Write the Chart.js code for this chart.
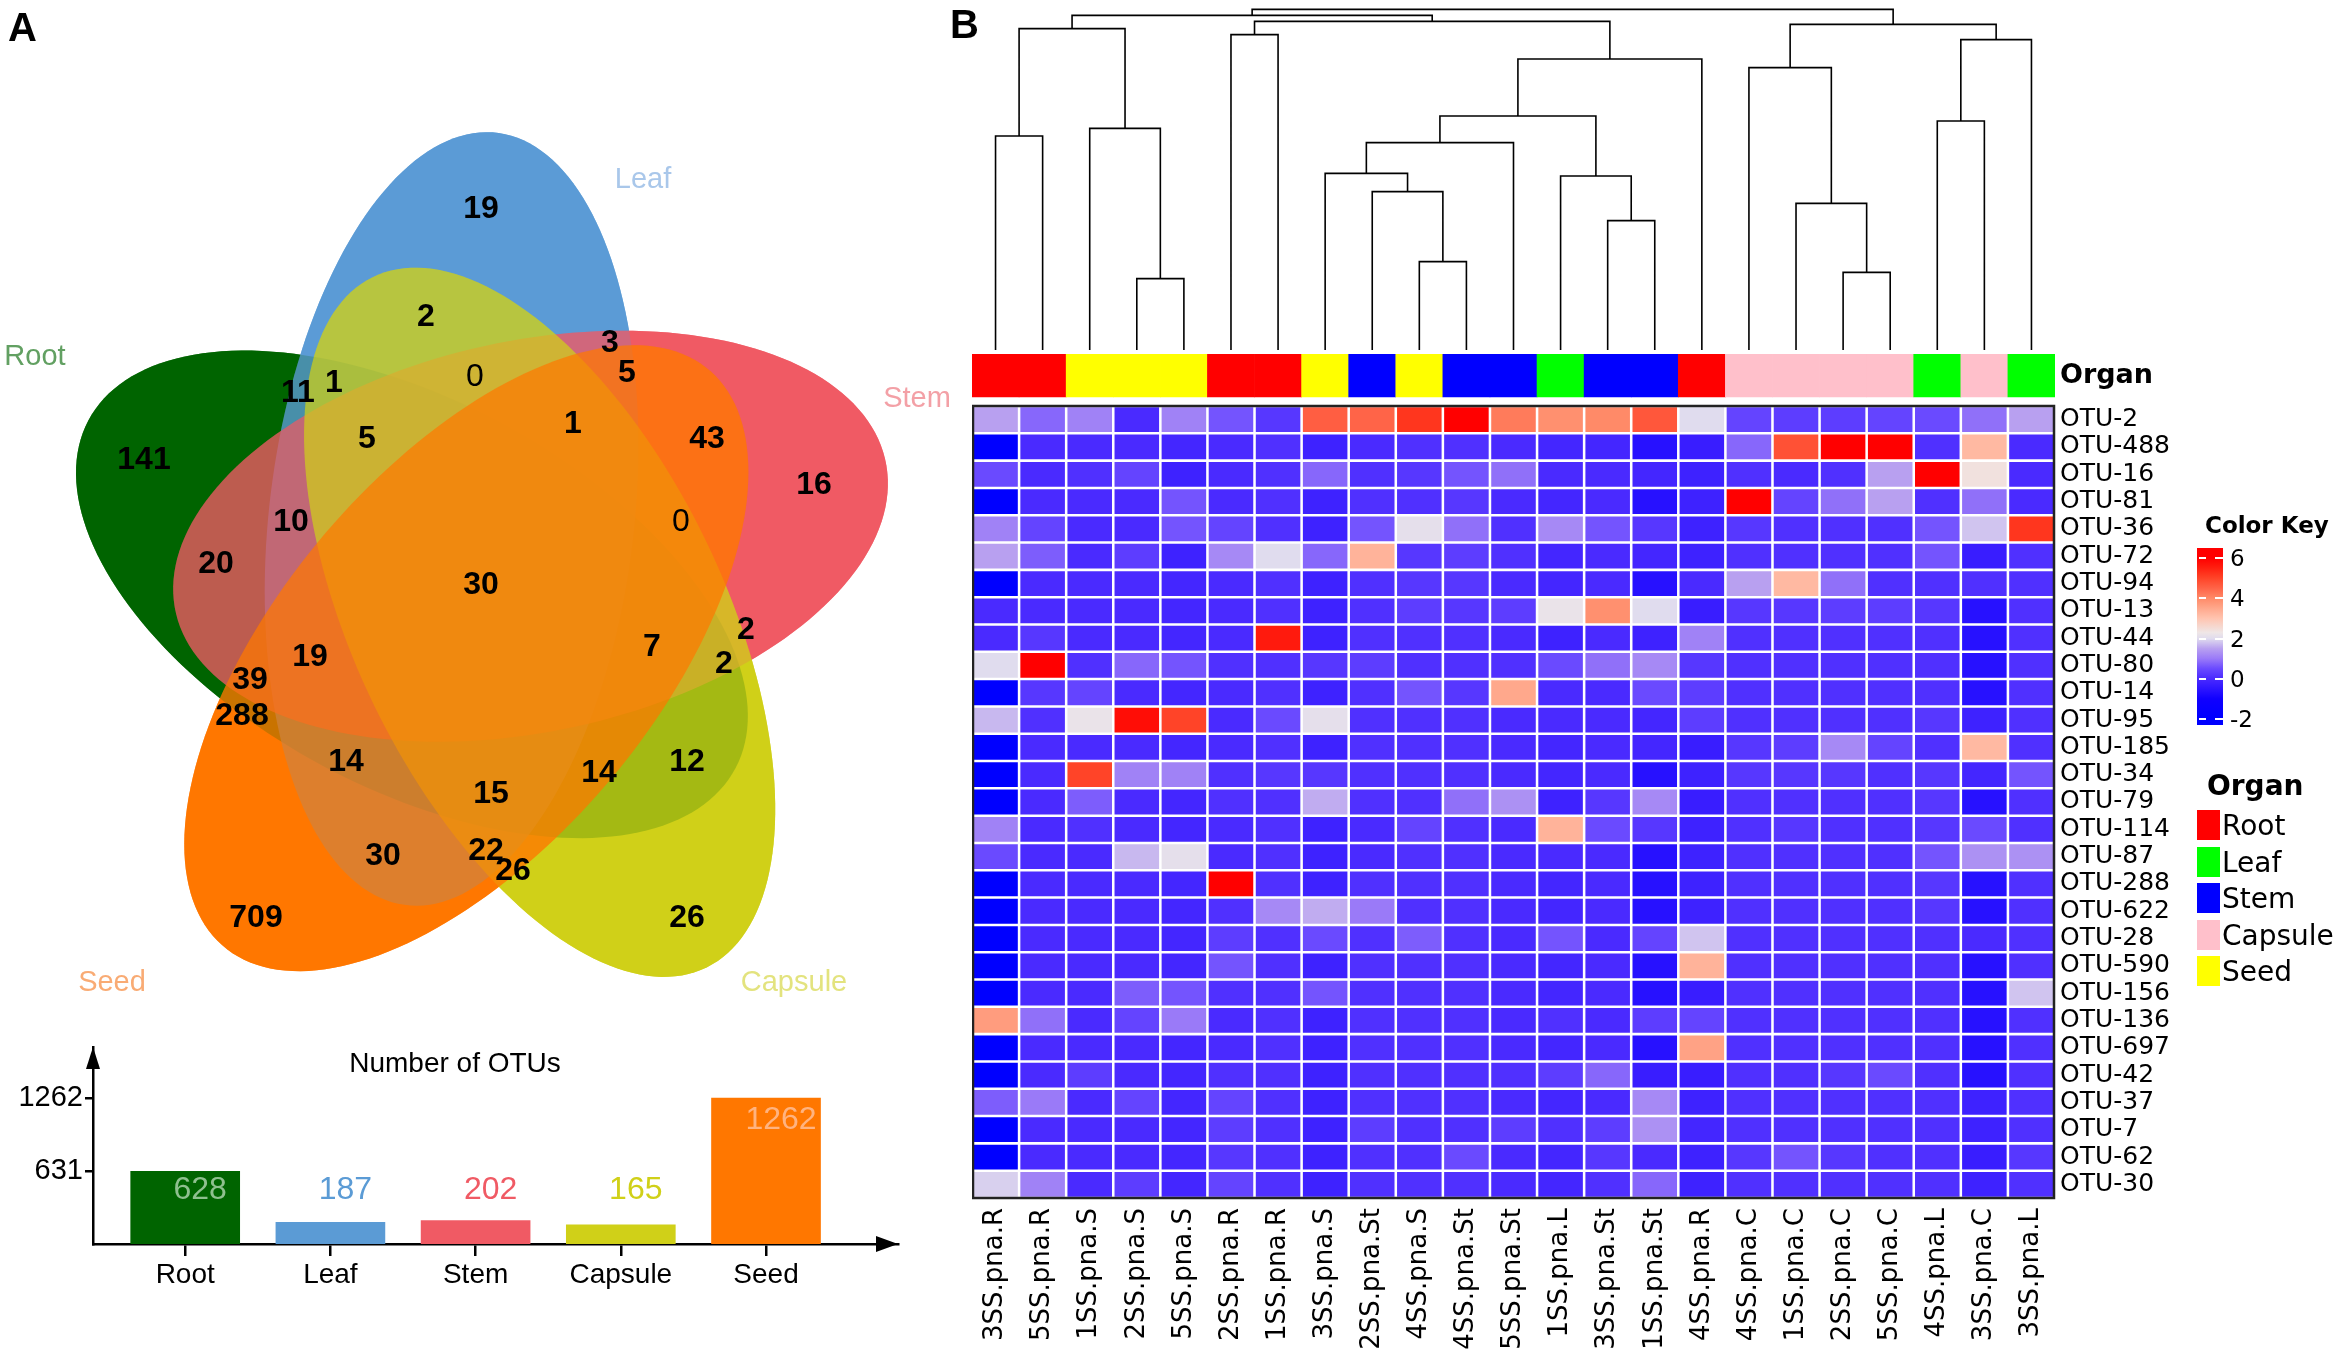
<!DOCTYPE html>
<html lang="en">
<head>
<meta charset="utf-8">
<title>OTUs: Venn, totals and heatmap</title>
<script src="https://cdn.jsdelivr.net/npm/chart.js@4.4.1/dist/chart.umd.min.js"></script>
<style>
  html, body { margin: 0; padding: 0; background: #fff; }
  #page { position: relative; width: 2334px; height: 1354px; overflow: hidden; background: #fff; }
  .box { position: absolute; }
  .txt { position: absolute; white-space: nowrap; line-height: 1; }
</style>
</head>
<body>
<div id="page">
  <div class="box" style="left:0;top:0;width:960px;height:1010px"><canvas id="venn"></canvas></div>
  <div class="box" style="left:0;top:1020px;width:940px;height:334px"><canvas id="totals"></canvas></div>
  <div class="box" style="left:972px;top:0;width:1083px;height:352px"><canvas id="dendro"></canvas></div>
  <div class="box" style="left:972px;top:354px;width:1362px;height:1000px"><canvas id="heat"></canvas></div>
  <div id="overlay"></div>
</div>
<script>
// ---------- Teil A: Organe, Venn-Zahlen, Gesamtzahlen ----------
const organs = ['Root', 'Leaf', 'Stem', 'Capsule', 'Seed'];
const organTotals = [628, 187, 202, 165, 1262];
const totalTicks = [631, 1262];
const vennCounts = [19, 2, 3, 5, 0, 11, 1, 141, 5, 1, 43, 16, 10, 0, 20, 30,
                    7, 2, 2, 19, 39, 288, 14, 12, 14, 15, 30, 22, 26, 709, 26];

// ---------- Teil B: Proben, OTUs, Werte, Dendrogramm ----------
const samples = ['3SS.pna.R', '5SS.pna.R', '1SS.pna.S', '2SS.pna.S', '5SS.pna.S', '2SS.pna.R',
                 '1SS.pna.R', '3SS.pna.S', '2SS.pna.St', '4SS.pna.S', '4SS.pna.St', '5SS.pna.St',
                 '1SS.pna.L', '3SS.pna.St', '1SS.pna.St', '4SS.pna.R', '4SS.pna.C', '1SS.pna.C',
                 '2SS.pna.C', '5SS.pna.C', '4SS.pna.L', '3SS.pna.C', '3SS.pna.L'];
const sampleOrgan = ['Root', 'Root', 'Seed', 'Seed', 'Seed', 'Root', 'Root', 'Seed', 'Stem', 'Seed',
                     'Stem', 'Stem', 'Leaf', 'Stem', 'Stem', 'Root', 'Capsule', 'Capsule', 'Capsule',
                     'Capsule', 'Leaf', 'Capsule', 'Leaf'];
const otus = ['OTU-2', 'OTU-488', 'OTU-16', 'OTU-81', 'OTU-36', 'OTU-72', 'OTU-94', 'OTU-13',
              'OTU-44', 'OTU-80', 'OTU-14', 'OTU-95', 'OTU-185', 'OTU-34', 'OTU-79', 'OTU-114',
              'OTU-87', 'OTU-288', 'OTU-622', 'OTU-28', 'OTU-590', 'OTU-156', 'OTU-136', 'OTU-697',
              'OTU-42', 'OTU-37', 'OTU-7', 'OTU-62', 'OTU-30'];
const zscores = [
  [1.5, 0.8, 1.1, 0, 1.1, 0.6, 0.2, 4.6, 4.5, 5.2, 6, 4.2, 3.9, 4.0, 4.7, 2.0, 0.4, 0.3, 0.3, 0.4, 0.5, 0.9, 1.5],
  [-2, 0, 0, 0, -0.1, 0, 0.1, -0.2, 0, 0.1, 0.1, 0, -0.1, -0.1, -0.6, -0.3, 0.8, 4.8, 6, 6, 0.1, 3.2, 0],
  [0.5, 0, 0.1, 0.4, -0.2, 0, 0.1, 0.8, 0.1, 0.2, 0.6, 0.9, 0, 0, -0.1, -0.2, 0.1, 0, 0.1, 1.5, 6, 2.4, 0],
  [-2, 0, 0, 0, 0.6, 0, 0.1, -0.2, 0.1, 0.1, 0.2, 0, -0.1, 0, -0.6, -0.2, 6, 0.4, 0.9, 1.5, 0.1, 0.9, 0],
  [1.1, 0.4, 0, 0, 0.6, 0.4, 0.1, -0.2, 0.6, 2.1, 0.9, 0.1, 1.2, 0.6, 0.2, -0.2, 0.2, 0.1, 0.1, 0.1, 0.6, 1.8, 5.2],
  [1.5, 0.7, 0, 0.3, -0.2, 1.2, 2.0, 0.8, 3.3, 0.2, 0.3, 0.1, -0.1, 0, -0.1, -0.2, 0.1, 0.1, 0.1, 0.1, 0.6, -0.3, 0.1],
  [-2, 0, 0, 0, -0.1, 0, 0.1, -0.2, 0.1, 0.2, 0.2, 0, -0.1, 0, -0.6, 0, 1.5, 3.2, 0.9, 0.1, 0.1, 0.1, 0.1],
  [0, 0, 0, 0, -0.1, 0, 0.1, -0.2, 0.1, 0.3, 0.2, 0.3, 2.2, 3.9, 2.0, -0.3, 0.2, 0.2, 0.3, 0.3, 0.2, -0.6, 0.1],
  [0, 0.2, 0, 0, -0.1, 0, 5.6, -0.2, 0.1, 0.1, 0.1, 0, -0.2, 0, -0.2, 1.1, 0.1, 0.1, 0.1, 0.1, 0.1, -0.6, 0.1],
  [2.0, 6, 0.1, 0.8, 0.6, 0.1, 0.1, 0.2, 0.3, 0.1, 0.1, 0.1, 0.5, 0.9, 1.2, 0.2, 0.1, 0.1, 0.1, 0.1, 0.1, -0.6, 0.1],
  [-2, 0.2, 0.4, 0, -0.1, 0, 0.1, -0.2, 0.1, 0.6, 0.2, 3.5, 0, 0, 0.5, 0.3, 0.1, 0.1, 0.1, 0.1, 0.1, -0.6, 0.1],
  [1.7, 0.1, 2.2, 5.8, 5.0, 0, 0.5, 2.1, 0.1, 0.1, 0.1, 0, 0, 0, -0.1, 0.3, 0.1, 0.1, 0.1, 0.1, 0.2, -0.2, 0.1],
  [-2, 0, 0, 0, -0.1, 0, 0.1, -0.2, 0.1, 0.1, 0.1, 0, -0.1, 0, -0.1, -0.3, 0.2, 0.3, 1.2, 0.4, 0.1, 3.2, 0.1],
  [-2, 0, 5.0, 1.1, 1.1, 0.1, 0.2, 0.2, 0.1, 0.1, 0.1, 0, -0.1, 0, -0.6, -0.2, 0.2, 0.2, 0.2, 0.1, 0.2, -0.1, 0.6],
  [-2, 0, 0.7, 0, -0.1, 0.1, 0.1, 1.6, 0.1, 0.1, 0.9, 1.3, -0.2, 0.2, 1.2, -0.3, 0.1, 0.1, 0.1, 0.1, 0.2, -0.6, 0.1],
  [1.1, 0, 0.1, 0, -0.1, 0, 0.1, -0.2, 0, 0.4, 0.1, 0, 3.3, 0.5, 0.2, -0.2, 0.1, 0.2, 0.1, 0.1, 0.2, 0.5, 0.1],
  [0.5, 0, 0, 1.7, 2.1, 0, 0.1, -0.2, 0, 0.1, 0.1, 0, 0, 0, -0.6, -0.2, 0.1, 0.1, 0.1, 0.1, 0.6, 1.3, 1.3],
  [-2, 0, 0, 0, -0.1, 6, 0.1, -0.2, 0.1, 0.1, 0.1, 0, -0.1, 0, -0.6, -0.2, 0.1, 0.1, 0.1, 0.1, 0.2, -0.6, 0.1],
  [-2, 0, 0, 0, -0.1, 0.1, 1.2, 1.6, 1.0, 0.1, 0.1, 0, -0.1, 0, -0.6, -0.2, 0.1, 0.1, 0.1, 0.1, 0.2, -0.6, 0.1],
  [-2, 0, 0, 0, -0.1, 0.3, 0.1, 0.5, 0.1, 0.7, 0.1, 0, 0.6, 0, 0.4, 1.8, 0.1, 0.1, 0.1, 0.1, 0.1, 0, 0.1],
  [-2, 0, 0, 0, -0.1, 0.6, 0.1, -0.2, 0.1, 0.1, 0.1, 0, -0.1, 0, -0.6, 3.3, 0.1, 0.1, 0.1, 0.1, 0.1, -0.6, 0.1],
  [-2, 0, 0, 0.7, 0.6, 0.1, 0.1, 0.6, 0.1, 0.1, 0.1, 0, -0.1, 0, -0.6, -0.3, 0.1, 0.1, 0.1, 0.1, 0.1, -0.6, 1.8],
  [3.7, 0.9, 0, 0.4, 1.0, 0, 0.1, -0.2, 0.1, 0.1, 0.1, 0, 0.1, 0, 0.3, 0.4, 0.1, 0.1, 0.1, 0.1, 0.1, -0.6, 0.1],
  [-2, 0, 0, 0, -0.1, 0, 0.1, -0.2, 0.1, 0.1, 0.1, 0, -0.1, 0, -0.6, 3.6, 0.1, 0.1, 0.1, 0.1, 0.1, -0.6, 0.1],
  [-2, 0, 0.3, 0, -0.1, 0.1, 0.1, -0.2, 0.1, 0.1, 0.1, 0.1, 0.3, 0.8, -0.3, -0.3, 0.1, 0.1, 0.2, 0.5, 0.1, -0.6, 0.1],
  [0.7, 1.0, 0, 0.4, -0.1, 0.4, 0.1, -0.2, 0.1, 0.1, 0.1, 0, -0.1, 0, 1.2, -0.2, 0.1, 0.1, 0.1, 0.1, 0.1, -0.2, 0.1],
  [-2, 0, 0, 0, -0.1, 0.3, 0.1, -0.2, 0.3, 0.1, 0.1, 0.3, 0.1, 0.3, 1.3, -0.1, 0.1, 0.1, 0.1, 0.1, 0.1, -0.2, 0.1],
  [-2, 0, 0, 0, -0.1, 0.2, 0.1, -0.2, 0.1, 0.1, 0.5, 0, -0.1, 0.2, 0, -0.2, 0.2, 0.6, 0.2, 0.1, 0.1, -0.3, 0.2],
  [1.9, 1.1, 0, 0.3, -0.1, 0.4, 0.1, -0.2, 0.1, 0.1, 0.1, 0, -0.1, 0.1, 0.8, -0.2, 0.1, 0.1, 0.1, 0.1, 0.1, -0.2, 0.1]
];
// Zusammenschlüsse wie bei hclust: negativ = Probe (Spalte), positiv = früherer Schritt
const dendroMerges = [[-4, -5], [-19, -20], [-10, -11], [-14, -15], [-18, 2], [-9, 3], [-13, 4], [-8, 6],
                      [8, -12], [-1, -2], [-3, 1], [-21, -22], [9, 7], [-17, 5], [13, -16], [12, -23],
                      [-6, -7], [10, 11], [14, 16], [17, 15], [18, 20], [21, 19]];
const dendroHeights = [21.4, 23.3, 26.5, 38.8, 44.0, 47.5, 52.2, 53.0, 62.2, 64.2, 66.5, 68.7, 70.2,
                       84.7, 87.3, 93.1, 94.6, 96.4, 97.7, 98.6, 100.4, 102.2];
const keyTicks = [6, 4, 2, 0, -2];

// ---------- Stil und Layout ----------
const LIB = "'Liberation Sans', Arial, sans-serif";
const DV = "'DejaVu Sans', sans-serif";
const vennColours = ['#006400', '#5b9bd5', '#f05a64', '#d0d018', '#ff7700'];
const vennNameColours = ['#62a062', '#a9c7ea', '#f3a0a6', '#e3e37e', '#f9ab74'];
const totalLabelColours = ['#8fc08f', '#5b9bd5', '#f05a64', '#d0d018', '#ffb380'];
const heatOrganColours = { Root: '#ff0000', Leaf: '#00ff00', Stem: '#0000ff', Capsule: '#ffc0cb', Seed: '#ffff00' };
const keyStops = [[-2, '#0000ff'], [-1, '#1000ff'], [0, '#4a2aff'], [0.5, '#6a4aff'], [1, '#9a7af8'],
                  [1.5, '#b8a0f0'], [2, '#e0dcee'], [2.3, '#efe6e6'], [3, '#ffc4b0'], [3.5, '#ffa88c'],
                  [4, '#ff8a68'], [4.5, '#ff6448'], [5, '#ff4428'], [5.5, '#ff2010'], [6, '#ff0000']];

// Ellipsen-Geometrie (Einheiten vor der Streckung), Reihenfolge wie organs
const vennOrigin = [480, 586], vennStretch = [0.965, 1.038];
const vennOffset = 71, vennTilt = 32, vennAxes = [375, 189];
const vennCentreAngle = [173.5, -114.5, -42.5, 29.5, 101.5];
const vennCountPos = [[481, 209], [426, 317], [610, 343], [627, 373], [475, 377], [298, 393], [334, 383],
                      [144, 460], [367, 439], [573, 424], [707, 439], [814, 485], [291, 522], [681, 522],
                      [216, 564], [481, 585], [652, 647], [746, 630], [724, 664], [310, 657], [250, 680],
                      [242, 716], [346, 762], [687, 762], [599, 773], [491, 794], [383, 856], [486, 851],
                      [513, 871], [256, 918], [687, 918]];
const vennNamePos = [[35, 357], [643, 180], [917, 399], [794, 983], [112, 983]];

Chart.defaults.animation = false;
Chart.defaults.devicePixelRatio = 1;
Chart.defaults.plugins.legend.display = false;
Chart.defaults.plugins.tooltip.enabled = false;

function hexRgb(h) {
    return [1, 3, 5].map(i => parseInt(h.substr(i, 2), 16));
}

// Farbskala des Color Key
function heatColour(v) {
    if (v <= keyStops[0][0]) return keyStops[0][1];
    for (let i = 1; i < keyStops.length; i++) {
        if (v <= keyStops[i][0]) {
            const t = (v - keyStops[i - 1][0]) / (keyStops[i][0] - keyStops[i - 1][0]);
            const a = hexRgb(keyStops[i - 1][1]), b = hexRgb(keyStops[i][1]);
            const c = a.map((x, k) => Math.round(x + (b[k] - x) * t));
            return `rgb(${c[0]},${c[1]},${c[2]})`;
        }
    }
    return keyStops[keyStops.length - 1][1];
}

// Text als HTML
const overlay = document.getElementById('overlay');
function addText(text, x, y, css, anchor) {
    const d = document.createElement('div');
    d.className = 'txt';
    d.textContent = text;
    d.style.cssText += `left:${x}px;top:${y}px;` + css;
    d.style.transform = anchor === 'left' ? 'translate(0,-50%)' : 'translate(-50%,-50%)';
    overlay.appendChild(d);
    return d;
}

// ---------- Venn ----------
const vennPlugin = {
    id: 'vennShapes',
    beforeDatasetsDraw(chart) {
        const { ctx, scales: { x, y } } = chart;
        const toPx = (u, v) => [x.getPixelForValue(vennOrigin[0] + vennStretch[0] * u),
                                y.getPixelForValue(vennOrigin[1] + vennStretch[1] * v)];
        const trace = (i) => {
            const phi = vennCentreAngle[i] * Math.PI / 180;
            const th = (vennCentreAngle[i] + vennTilt) * Math.PI / 180;
            const cu = vennOffset * Math.cos(phi), cv = vennOffset * Math.sin(phi);
            ctx.beginPath();
            for (let k = 0; k <= 180; k++) {
                const t = k / 180 * 2 * Math.PI;
                const a = vennAxes[0] * Math.cos(t), b = vennAxes[1] * Math.sin(t);
                const p = toPx(cu + a * Math.cos(th) - b * Math.sin(th), cv + a * Math.sin(th) + b * Math.cos(th));
                if (k === 0) ctx.moveTo(p[0], p[1]); else ctx.lineTo(p[0], p[1]);
            }
            ctx.closePath();
        };
        ctx.save();
        // erst deckend, dann halbtransparent darüber
        [1, 0.7].forEach(alpha => {
            ctx.globalAlpha = alpha;
            organs.forEach((o, i) => {
                trace(i);
                ctx.fillStyle = vennColours[i];
                ctx.fill();
            });
        });
        ctx.restore();
    },
    afterDatasetsDraw(chart) {
        const { ctx, scales: { x, y } } = chart;
        ctx.save();
        ctx.textAlign = 'center';
        ctx.textBaseline = 'middle';
        vennCounts.forEach((n, i) => {
            ctx.font = (n === 0 ? '' : 'bold ') + '32px ' + LIB;
            ctx.fillStyle = '#000';
            ctx.fillText(String(n), x.getPixelForValue(vennCountPos[i][0]), y.getPixelForValue(vennCountPos[i][1]));
        });
        ctx.font = '29px ' + LIB;
        organs.forEach((o, i) => {
            ctx.fillStyle = vennNameColours[i];
            ctx.fillText(o, x.getPixelForValue(vennNamePos[i][0]), y.getPixelForValue(vennNamePos[i][1]));
        });
        ctx.restore();
    }
};

new Chart(document.getElementById('venn'), {
    type: 'scatter',
    data: { datasets: [] },
    options: {
        responsive: true,
        maintainAspectRatio: false,
        layout: { padding: 0 },
        scales: {
            x: { display: false, min: 0, max: 960 },
            y: { display: false, min: 0, max: 1010, reverse: true }
        }
    },
    plugins: [vennPlugin]
});

// ---------- Balken: Anzahl OTUs ----------
const totalsPlugin = {
    id: 'totalsExtras',
    afterDatasetsDraw(chart) {
        const { ctx, chartArea } = chart;
        const bars = chart.getDatasetMeta(0).data;
        ctx.save();
        ctx.font = '32px ' + LIB;
        ctx.textAlign = 'center';
        ctx.textBaseline = 'middle';
        bars.forEach((bar, i) => {
            ctx.fillStyle = totalLabelColours[i];
            ctx.fillText(String(organTotals[i]), bar.x + 15, Math.min(bar.y + 22, chartArea.bottom - 54));
        });
        ctx.restore();
    },
    afterDraw(chart) {
        const { ctx, chartArea: { left, right, top, bottom } } = chart;
        ctx.save();
        ctx.fillStyle = '#000';
        ctx.beginPath();
        ctx.moveTo(left, top);
        ctx.lineTo(left - 7, top + 22);
        ctx.lineTo(left + 7, top + 22);
        ctx.closePath();
        ctx.fill();
        ctx.beginPath();
        ctx.moveTo(right, bottom);
        ctx.lineTo(right - 22, bottom - 8);
        ctx.lineTo(right - 22, bottom + 8);
        ctx.closePath();
        ctx.fill();
        ctx.restore();
    }
};

new Chart(document.getElementById('totals'), {
    type: 'bar',
    data: {
        datasets: [{
            data: organTotals.map((v, i) => ({ x: i, y: v })),
            backgroundColor: vennColours,
            barThickness: 109
        }]
    },
    options: {
        responsive: true,
        maintainAspectRatio: false,
        layout: { padding: { top: 27, right: 42, left: 0, bottom: 0 } },
        scales: {
            x: {
                type: 'linear',
                min: -0.635,
                max: 4.909,
                offset: false,
                afterBuildTicks: a => { a.ticks = organs.map((o, i) => ({ value: i })); },
                afterFit: s => { s.height = 110; },
                ticks: {
                    callback: v => organs[v],
                    font: { family: LIB, size: 28 },
                    color: '#000',
                    padding: 2,
                    autoSkip: false,
                    maxRotation: 0
                },
                grid: { drawOnChartArea: false, drawTicks: true, tickLength: 12, color: '#000', lineWidth: 2.5, offset: false },
                border: { display: true, color: '#000', width: 2.5 }
            },
            y: {
                min: 0,
                max: 1703,
                afterBuildTicks: a => { a.ticks = totalTicks.map(v => ({ value: v })); },
                afterFit: s => { s.width = 93; },
                ticks: { font: { family: LIB, size: 29 }, color: '#000', padding: 2, callback: v => String(v) },
                grid: { drawOnChartArea: false, drawTicks: true, tickLength: 8, color: '#000', lineWidth: 2.5 },
                border: { display: true, color: '#000', width: 2.5 }
            }
        }
    },
    plugins: [totalsPlugin]
});

addText('Number of OTUs', 455, 1063, `font:28px ${LIB};color:#000;`);

// ---------- Dendrogramm ----------
function dendroPoints() {
    const pos = [], hgt = [], pts = [];
    const where = id => id < 0 ? [-id - 1, 0] : [pos[id - 1], hgt[id - 1]];
    dendroMerges.forEach(([a, b], k) => {
        const [xa, ha] = where(a), [xb, hb] = where(b);
        const h = dendroHeights[k];
        pts.push({ x: xa, y: ha }, { x: xa, y: h }, { x: xb, y: h }, { x: xb, y: hb }, { x: xb, y: null });
        pos.push((xa + xb) / 2);
        hgt.push(h);
    });
    return pts;
}

new Chart(document.getElementById('dendro'), {
    type: 'scatter',
    data: {
        datasets: [{
            data: dendroPoints(),
            showLine: true,
            spanGaps: false,
            pointRadius: 0,
            borderColor: '#000',
            borderWidth: 1.6,
            clip: false
        }]
    },
    options: {
        responsive: true,
        maintainAspectRatio: false,
        layout: { padding: { bottom: 2 } },
        scales: {
            x: { display: false, min: -0.5, max: samples.length - 0.5 },
            y: { display: false, min: 0, max: 105 }
        }
    }
});

// ---------- Heatmap ----------
const organTop = -1.904, organBottom = -0.33;
const heatDatasets = zscores.map((row, r) => ({
    data: row.map(() => [r, r + 1]),
    backgroundColor: row.map(heatColour),
    borderColor: '#ffffff',
    borderWidth: 1.6,
    borderSkipped: false,
    grouped: false,
    barPercentage: 1,
    categoryPercentage: 1
}));
heatDatasets.push({
    data: samples.map(() => [organTop, organBottom]),
    backgroundColor: sampleOrgan.map(o => heatOrganColours[o]),
    borderWidth: 0,
    grouped: false,
    barPercentage: 1,
    categoryPercentage: 1
});

const framePlugin = {
    id: 'heatFrame',
    afterDatasetsDraw(chart) {
        const { ctx, chartArea, scales: { y } } = chart;
        const t = y.getPixelForValue(0), b = y.getPixelForValue(otus.length);
        ctx.save();
        ctx.strokeStyle = '#222';
        ctx.lineWidth = 2.5;
        ctx.strokeRect(chartArea.left + 1, t, chartArea.right - chartArea.left - 2, b - t);
        ctx.restore();
    }
};

new Chart(document.getElementById('heat'), {
    type: 'bar',
    data: { labels: samples, datasets: heatDatasets },
    options: {
        responsive: true,
        maintainAspectRatio: false,
        layout: { padding: 0 },
        scales: {
            x: {
                afterFit: s => { s.height = 156; s.paddingLeft = 0; s.paddingRight = 0; },
                ticks: {
                    font: { family: DV, size: 26 },
                    color: '#000',
                    minRotation: 90,
                    maxRotation: 90,
                    padding: 10,
                    autoSkip: false
                },
                grid: { display: false, drawTicks: false },
                border: { display: false }
            },
            y: {
                position: 'right',
                reverse: true,
                min: organTop,
                max: otus.length,
                afterBuildTicks: a => {
                    a.ticks = [{ value: (organTop + organBottom) / 2 }].concat(otus.map((o, i) => ({ value: i + 0.5 })));
                },
                afterFit: s => { s.width = 279; s.paddingTop = 0; s.paddingBottom = 0; },
                ticks: {
                    callback: (v, i) => i === 0 ? 'Organ' : otus[i - 1],
                    font: c => c.index === 0 ? { family: DV, size: 27, weight: 'bold' } : { family: DV, size: 25 },
                    color: '#000',
                    padding: 5,
                    autoSkip: false
                },
                grid: { display: false, drawTicks: false },
                border: { display: false }
            }
        }
    },
    plugins: [framePlugin]
});

// ---------- Color Key und Organ-Legende ----------
const keyLo = -2.3, keyHi = 6.5, keyTop = 548, keyHeight = 177, keyLeft = 2197, keyWidth = 26;
addText('Color Key', 2205, 525, `font:bold 23px ${DV};color:#000;`, 'left');
const bar = document.createElement('div');
bar.style.cssText = `position:absolute;left:${keyLeft}px;top:${keyTop}px;width:${keyWidth}px;height:${keyHeight}px;`;
bar.style.background = 'linear-gradient(to top,' +
    keyStops.map(([v, c]) => `${c} ${((v - keyLo) / (keyHi - keyLo) * 100).toFixed(2)}%`).join(',') + ')';
overlay.appendChild(bar);
keyTicks.forEach(v => {
    const yy = keyTop + (keyHi - v) / (keyHi - keyLo) * keyHeight;
    [[keyLeft + 2, 7], [keyLeft + keyWidth - 8, 12]].forEach(([x0, w]) => {
        const d = document.createElement('div');
        d.style.cssText = `position:absolute;left:${x0}px;top:${yy - 1}px;width:${w}px;height:2px;background:#fff;`;
        overlay.appendChild(d);
    });
    addText(String(v), 2230, yy, `font:23px ${DV};color:#000;`, 'left');
});

addText('Organ', 2207, 785, `font:bold 28px ${DV};color:#000;`, 'left');
organs.forEach((o, i) => {
    const top = 810 + i * 36.6;
    const sq = document.createElement('div');
    sq.style.cssText = `position:absolute;left:2197px;top:${top}px;width:23px;height:30px;background:${heatOrganColours[o]};`;
    overlay.appendChild(sq);
    addText(o, 2222, top + 15, `font:28px ${DV};color:#000;`, 'left');
});

// Panel-Buchstaben
addText('A', 8, 27, `font:bold 40px ${LIB};color:#000;`, 'left');
addText('B', 950, 24, `font:bold 40px ${LIB};color:#000;`, 'left');
</script>
</body>
</html>
